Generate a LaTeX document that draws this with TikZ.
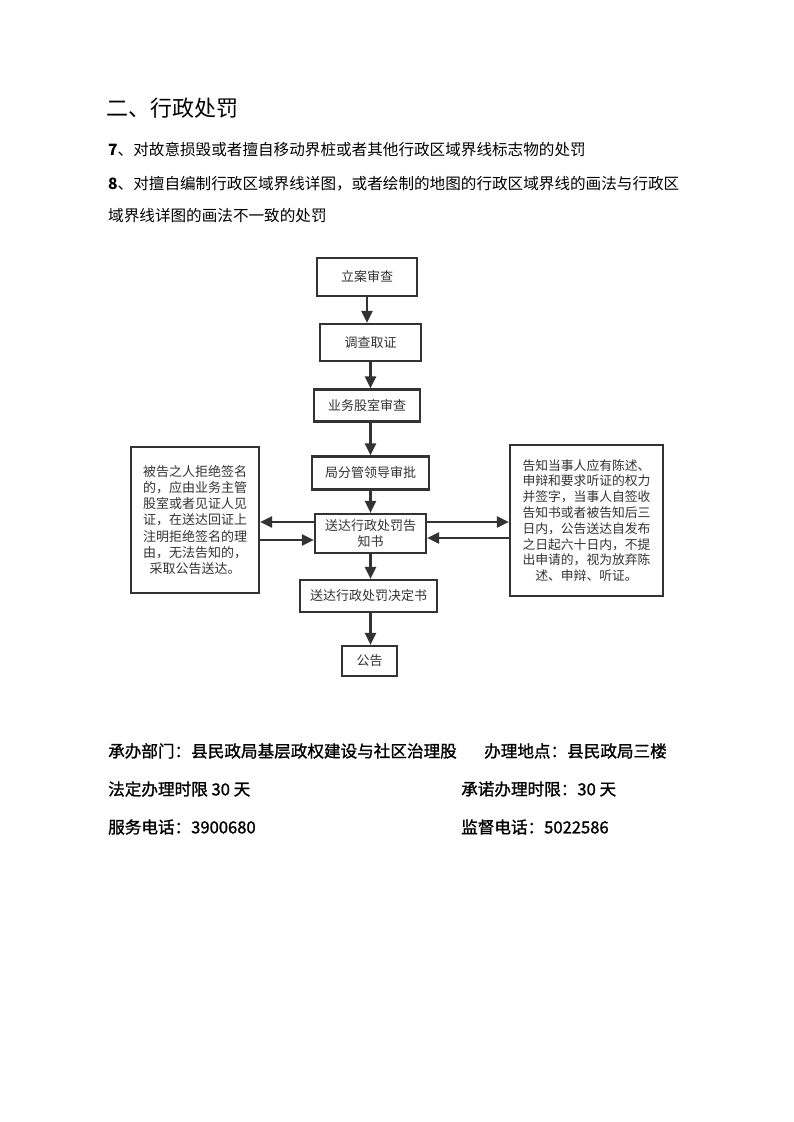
\documentclass[tikz,border=0pt]{standalone}
\usepackage{fontspec}
\setmainfont{Noto Sans CJK SC}
\newfontfamily\cjk{Noto Sans CJK SC}
\newfontfamily\cjkfb{Noto Sans CJK SC}[FakeBold=1.2]
\usetikzlibrary{arrows.meta}
\definecolor{ink}{HTML}{333333}
\begin{document}
\begin{tikzpicture}[x=1pt,y=-1pt,
  box/.style={draw=ink,line width=2.2pt,rectangle,inner sep=0pt,align=center,
    text=ink,font=\cjk\fontsize{13}{16.3}\selectfont},
  arr/.style={draw=ink,line width=2.2pt,-{Triangle[length=12pt,width=11pt]}},
  head/.style={anchor=west,inner sep=0pt,text=black},
  foot/.style={head,font=\cjkfb\fontsize{16.6}{18}\selectfont},
]
\useasboundingbox[fill=white] (0,0) rectangle (793,1122);

% headings
\node[head,font=\cjk\fontsize{22}{24}\selectfont] (title) at (106,108) {二、行政处罚};
\node[head,font=\cjk\fontsize{15.6}{18}\selectfont] (l7) at (108,150) {\textbf{7}、对故意损毁或者擅自移动界桩或者其他行政区域界线标志物的处罚};
\node[head,font=\cjk\fontsize{15.6}{18}\selectfont] (l8) at (108,184) {\textbf{8}、对擅自编制行政区域界线详图，或者绘制的地图的行政区域界线的画法与行政区};
\node[head,font=\cjk\fontsize{15.6}{18}\selectfont] (l8b) at (108,216) {域界线详图的画法不一致的处罚};

% flow boxes
\node[box,minimum width=100,minimum height=38] (a) at (367,277) {立案审查};
\node[box,minimum width=101,minimum height=37] (b) at (370.5,342.5) {调查取证};
\node[box,minimum width=106,minimum height=32] (c) at (367,405.5) {业务股室审查};
\node[box,minimum width=117,minimum height=33] (d) at (370.5,473) {局分管领导审批};
\node[box,minimum width=111,minimum height=39] (e) at (370.5,533.5) {送达行政处罚告\\知书};
\node[box,minimum width=137,minimum height=32] (f) at (368.5,596) {送达行政处罚决定书};
\node[box,minimum width=55,minimum height=30] (g) at (369.5,661) {公告};

\node[box,minimum width=128,minimum height=146] (L) at (195,520) {被告之人拒绝签名\\的，应由业务主管\\股室或者见证人见\\证，在送达回证上\\注明拒绝签名的理\\由，无法告知的，\\采取公告送达。};
\node[box,minimum width=153,minimum height=151,font=\cjk\fontsize{12.8}{15.8}\selectfont] (R) at (586.5,520.5) {告知当事人应有陈述、\\申辩和要求听证的权力\\并签字，当事人自签收\\告知书或者被告知后三\\日内，公告送达自发布\\之日起六十日内，不提\\出申请的，视为放弃陈\\述、申辩、听证。};

% vertical arrows
\draw[arr] (a.south) -- (a.south |- b.north);
\draw[arr] (b.south) -- (b.south |- c.north);
\draw[arr] (b.south |- c.south) -- (b.south |- d.north);
\draw[arr] (d.south) -- (d.south |- e.north);
\draw[arr] (e.south) -- (e.south |- f.north);
\draw[arr] (e.south |- f.south) -- (e.south |- g.north);

% horizontal arrows
\draw[arr] ([yshift=11.5pt]e.west) -- ([yshift=11.5pt]e.west -| L.east);
\draw[arr] ([yshift=-6.5pt]e.west -| L.east) -- ([yshift=-6.5pt]e.west);
\draw[arr] ([yshift=11.5pt]e.east) -- ([yshift=11.5pt]e.east -| R.west);
\draw[arr] ([yshift=-4.5pt]e.east -| R.west) -- ([yshift=-4.5pt]e.east);

% footer
\node[foot] (f1) at (108,751) {承办部门：县民政局基层政权建设与社区治理股};
\node[foot] (f2) at (484,751) {办理地点：县民政局三楼};
\node[foot] (f3) at (108,789) {法定办理时限 30 天};
\node[foot] (f4) at (461,789) {承诺办理时限：30 天};
\node[foot] (f5) at (108,827) {服务电话：3900680};
\node[foot] (f6) at (461,827) {监督电话：5022586};
\end{tikzpicture}
\end{document}
